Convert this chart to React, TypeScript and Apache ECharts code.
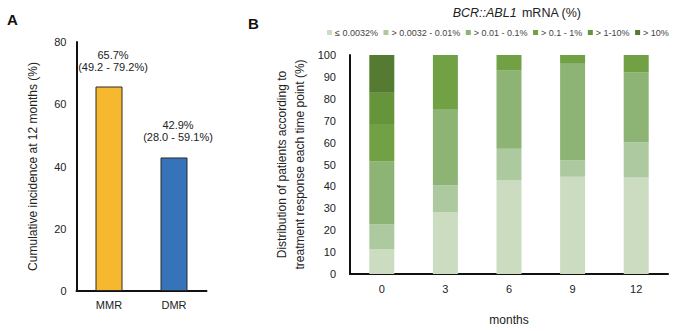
import React, { useEffect, useRef } from "react";
import * as echarts from "echarts";

// Panel A: cumulative incidence at 12 months
const responseTypes = ["MMR", "DMR"];
const incidence = [65.7, 42.9];
const ciLow = [49.2, 28.0];
const ciHigh = [79.2, 59.1];
const incidenceColors = ["#f6b82f", "#3673b8"];
const incidenceTicks = [0, 20, 40, 60, 80];

// Panel B: distribution of BCR::ABL1 levels per time point (%)
const months = ["0", "3", "6", "9", "12"];
const levelNames = [
  "≤ 0.0032%",
  "> 0.0032 - 0.01%",
  "> 0.01 - 0.1%",
  "> 0.1 - 1%",
  "> 1-10%",
  "> 10%",
];
const levelLe0032 = [11.4, 28.1, 42.9, 44.4, 44.0];
const level0032to001 = [11.4, 12.5, 14.3, 7.4, 16.0];
const level001to01 = [28.6, 34.4, 35.7, 44.5, 32.0];
const level01to1 = [17.1, 25.0, 7.1, 3.7, 8.0];
const level1to10 = [14.3, 0, 0, 0, 0];
const levelGt10 = [17.2, 0, 0, 0, 0];
const levelColors = ["#cbdcc1", "#adc9a0", "#8db474", "#72a044", "#66943a", "#557a32"];

const FONT = "Liberation Sans";

export default function App() {
  const ref = useRef<HTMLDivElement>(null);

  useEffect(() => {
    if (!ref.current) return;
    const chart = echarts.init(ref.current, undefined, { renderer: "svg" });
    const levels = [levelLe0032, level0032to001, level001to01, level01to1, level1to10, levelGt10];

    const axisLine = { show: true, lineStyle: { color: "#111", width: 2 } };
    const tickText = { color: "#222", fontSize: 11, fontFamily: FONT };

    chart.setOption({
      animation: false,
      textStyle: { fontFamily: FONT },
      title: [
        { text: "A", left: 2, top: 7, textStyle: { fontSize: 15, fontWeight: "bold", color: "#111", fontFamily: FONT } },
        { text: "B", left: 243, top: 11, textStyle: { fontSize: 15, fontWeight: "bold", color: "#111", fontFamily: FONT } },
        {
          text: "{i|BCR::ABL1} {n|mRNA (%)}",
          left: 512,
          top: -1,
          textAlign: "center",
          textStyle: {
            fontWeight: "normal",
            rich: {
              i: { fontStyle: "italic", fontWeight: "normal", fontSize: 12.5, color: "#222", fontFamily: FONT },
              n: { fontWeight: "normal", fontSize: 12.5, color: "#222", fontFamily: FONT },
            },
          },
        },
      ],
      legend: {
        data: levelNames,
        left: 322,
        top: 23,
        width: 360,
        itemWidth: 5,
        itemHeight: 5,
        itemGap: 5.5,
        icon: "rect",
        textStyle: { fontSize: 9, color: "#444", fontFamily: FONT, padding: [0, 0, 0, -2] },
      },
      grid: [
        { left: 76.5, top: 42, width: 130, height: 249 },
        { left: 350, top: 55, width: 318, height: 237 },
      ],
      xAxis: [
        {
          type: "category",
          gridIndex: 0,
          data: responseTypes,
          axisLine,
          axisTick: { show: false },
          axisLabel: { ...tickText, margin: 8 },
        },
        {
          type: "category",
          gridIndex: 1,
          data: months,
          axisLine,
          axisTick: { show: false },
          axisLabel: { ...tickText, margin: 9 },
          name: "months",
          nameLocation: "middle",
          nameGap: 40,
          nameTextStyle: { fontSize: 12, color: "#222", fontFamily: FONT },
        },
      ],
      yAxis: [
        {
          type: "value",
          gridIndex: 0,
          min: incidenceTicks[0],
          max: incidenceTicks[incidenceTicks.length - 1],
          interval: incidenceTicks[1] - incidenceTicks[0],
          axisLine,
          axisTick: { show: false },
          splitLine: { show: false },
          axisLabel: { ...tickText, margin: 10 },
          name: "Cumulative incidence at 12 months (%)",
          nameLocation: "middle",
          nameGap: 38,
          nameTextStyle: { fontSize: 12, color: "#222", fontFamily: FONT },
        },
        {
          type: "value",
          gridIndex: 1,
          min: 0,
          max: 100,
          interval: 10,
          axisLine,
          axisTick: { show: false },
          splitLine: { show: false },
          axisLabel: { ...tickText, margin: 14 },
          name: "Distribution of patients according to\ntreatment response each time point (%)",
          nameLocation: "middle",
          nameGap: 41,
          nameTextStyle: { fontSize: 12, color: "#222", fontFamily: FONT, lineHeight: 18 },
        },
      ],
      series: [
        {
          type: "bar",
          xAxisIndex: 0,
          yAxisIndex: 0,
          barWidth: 27,
          data: incidence.map((v, i) => ({
            value: v,
            itemStyle: { color: incidenceColors[i], borderColor: "#2a2a2a", borderWidth: 1 },
            label: {
              show: true,
              position: "top",
              distance: 14,
              offset: [4, 0],
              formatter: `${v.toFixed(1)}%\n(${ciLow[i].toFixed(1)} - ${ciHigh[i].toFixed(1)}%)`,
              fontSize: 11,
              lineHeight: 12,
              color: "#222",
              fontFamily: FONT,
            },
          })),
        },
        ...levels.map((vals, k) => ({
          type: "bar",
          name: levelNames[k],
          xAxisIndex: 1,
          yAxisIndex: 1,
          stack: "levels",
          barWidth: 25,
          itemStyle: { color: levelColors[k] },
          data: vals,
        })),
      ],
    });

    return () => chart.dispose();
  }, []);

  return (
    <div
      ref={ref}
      style={{ position: "absolute", left: 0, top: 0, width: 676, height: 331, background: "#fff" }}
    />
  );
}
